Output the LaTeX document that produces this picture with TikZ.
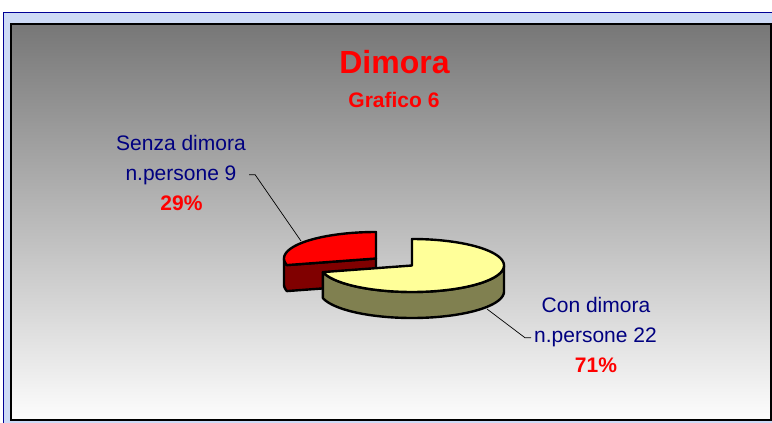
\documentclass[tikz,border=0pt]{standalone}
\usepackage{fontspec}
\setmainfont{Liberation Sans}
\definecolor{navyt}{RGB}{0,0,128}
\definecolor{piey}{RGB}{255,255,153}
\definecolor{pieo}{RGB}{128,128,80}
\definecolor{pier}{RGB}{255,0,0}
\definecolor{pied}{RGB}{128,0,0}
\definecolor{frameblue}{RGB}{0,0,150}
\definecolor{texblue}{RGB}{205,218,246}
\definecolor{gtop}{RGB}{119,119,119}
\definecolor{gbot}{RGB}{253,253,253}
\begin{document}
\begin{tikzpicture}[x=1pt,y=-1pt,
  pieline/.style={draw=black,line width=2.4pt,line join=round},
  lbl/.style={text=navyt,font=\fontsize{21}{21}\selectfont,anchor=base,inner sep=0pt},
  pct/.style={text=pier,font=\bfseries\fontsize{21}{21}\selectfont,anchor=base,inner sep=0pt},
  ttl/.style={text=pier,anchor=base,inner sep=0pt},
  leader/.style={draw=black,line width=0.7pt}]
\useasboundingbox (0,0) rectangle (772,423);
% background
\fill[white] (0,0) rectangle (772,423);
\fill[texblue] (3,12) rectangle (772,423);
\draw[frameblue,line width=1.5pt] (3.5,423) -- (3.5,12.5) -- (772,12.5);
\shade[top color=gtop,bottom color=gbot] (11,24) rectangle (771,420);
\draw[black,line width=1.3pt] (11,24) rectangle (771,420);
% title
\node[ttl,font=\bfseries\fontsize{32}{32}\selectfont] (title) at (394.5,73) {Dimora};
\node[ttl,font=\bfseries\fontsize{21}{21}\selectfont] (sub) at (394,107) {Grafico 6};
% red slice (exploded)
\path[pieline,fill=pied] plot[domain=180:194.4,samples=8] ({376+92*cos(\x)},{258.5-26.5*sin(\x)})
  -- (376,258.5) -- (376,284.5)
  -- plot[domain=194.4:180,samples=8] ({376+92*cos(\x)},{284.5-26.5*sin(\x)}) -- cycle;
\path[pieline,fill=pier] (376,258.5) -- plot[domain=90:194.4,samples=50] ({376+92*cos(\x)},{258.5-26.5*sin(\x)}) -- cycle;
% yellow slice
\path[pieline,fill=pieo] plot[domain=194.4:360,samples=70] ({412+92*cos(\x)},{265.5-26.5*sin(\x)})
  -- plot[domain=360:194.4,samples=70] ({412+92*cos(\x)},{291.5-26.5*sin(\x)}) -- cycle;
\path[pieline,fill=piey] (412,265.5) -- plot[domain=-165.6:90,samples=110] ({412+92*cos(\x)},{265.5-26.5*sin(\x)}) -- cycle;
% labels
\node[lbl] (sen1) at (181,150) {Senza dimora};
\node[lbl] (sen2) at (181,180) {n.persone 9};
\node[pct] (sen3) at (181.5,210) {29\%};
\node[lbl] (con1) at (596,312) {Con dimora};
\node[lbl] (con2) at (595.5,342) {n.persone 22};
\node[pct] (con3) at (596,372) {71\%};
% leaders
\coordinate (sp) at (301,241);
\coordinate (cp) at (487,309);
\draw[leader] ([xshift=12.5pt,yshift=2.6pt]sen2.mid east) -- ++(6,0) -- (sp);
\draw[leader] ([xshift=-3pt,yshift=1.6pt]con2.mid west) -- ++(-6,0) -- (cp);
\end{tikzpicture}
\end{document}
